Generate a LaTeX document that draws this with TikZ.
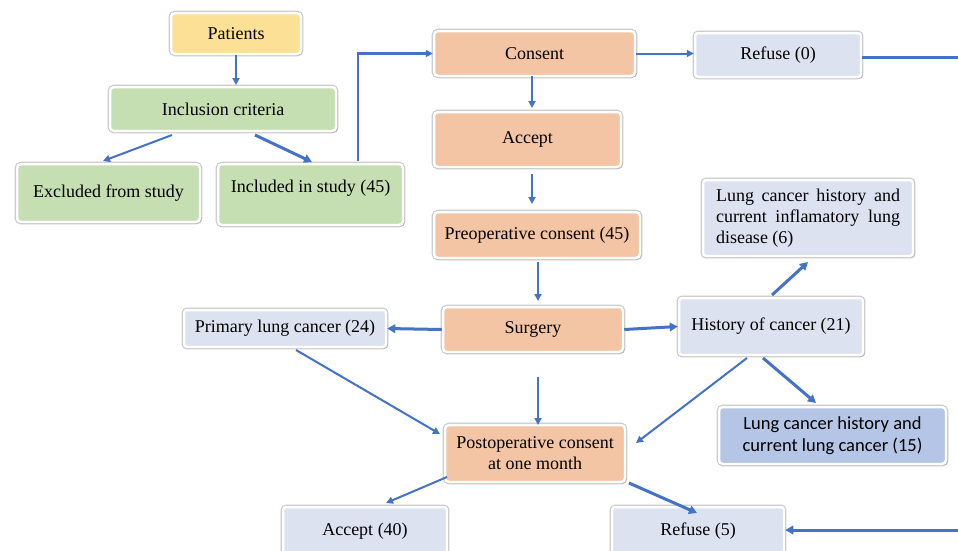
\documentclass[tikz,border=0pt]{standalone}
\usepackage{fontspec}
\setmainfont{Liberation Serif}
\newfontfamily\calib{Carlito}
\usetikzlibrary{shadows,arrows.meta}
\definecolor{arr}{HTML}{4472C4}
\definecolor{yel}{HTML}{FBE096}
\definecolor{grn}{HTML}{C5DFB2}
\definecolor{org}{HTML}{F4C5A5}
\definecolor{blu}{HTML}{DCE2F0}
\definecolor{dblu}{HTML}{B4C5E6}
\tikzset{
  box/.style={rounded corners=4pt, draw=white, line width=2.5pt, inner sep=2pt,
    align=center, font=\fontsize{18}{21}\selectfont,
    preaction={draw=black!22, line width=4.6pt},
    drop shadow={opacity=0.25, shadow xshift=1pt, shadow yshift=-1.5pt, shadow scale=1.01}},
  yelbox/.style={box, fill=yel},
  grnbox/.style={box, fill=grn},
  orgbox/.style={box, fill=org},
  blubox/.style={box, fill=blu, rounded corners=3pt},
  dblubox/.style={box, fill=dblu},
  con/.style={draw=arr, line width=2pt, -{Triangle[length=7pt,width=7pt]}},
  tcon/.style={draw=arr, line width=3pt, -{Triangle[length=8pt,width=8.5pt]}},
  line/.style={draw=arr, line width=3pt},
}
\begin{document}
\begin{tikzpicture}[x=1pt,y=-1pt]
\useasboundingbox[fill=white] (0,0) rectangle (958,550);
\node[yelbox, minimum width=130pt, minimum height=41pt] (pat) at (236,33.5) {Patients};
\node[grnbox, minimum width=226pt, minimum height=44pt] (inc) at (223,109) {Inclusion criteria};
\node[grnbox, minimum width=183pt, minimum height=58pt] (exc) at (108.5,193) {Excluded from study};
\node[grnbox, minimum width=185pt, minimum height=61pt] (ins) at (310.5,194.5) {Included in study (45)\\[-4pt]\mbox{}};
\node[orgbox, minimum width=201pt, minimum height=45pt] (con) at (534.5,53.5) {Consent};
\node[orgbox, minimum width=187pt, minimum height=55pt] (acc) at (527.5,139.5) {Accept};
\node[orgbox, minimum width=206pt, minimum height=46pt] (pre) at (537,235) {Preoperative consent (45)};
\node[blubox, minimum width=166pt, minimum height=44pt] (ref0) at (778,55) {Refuse (0)};
\node[blubox, minimum width=210pt, minimum height=76pt, text width=184pt, align=justify] (inf) at (808,218) {Lung cancer history and current inflamatory lung disease (6)};
\node[orgbox, minimum width=180pt, minimum height=45pt] (sur) at (533,329.5) {Surgery};
\node[blubox, minimum width=202pt, minimum height=37pt] (pri) at (285,328.5) {Primary lung cancer (24)};
\node[blubox, minimum width=184pt, minimum height=57pt] (his) at (771,326.5) {History of cancer (21)};
\node[dblubox, minimum width=227pt, minimum height=57pt, font=\calib\fontsize{18.5}{22}\selectfont] (lc) at (832.5,435.5) {Lung cancer history and\\current lung cancer (15)};
\node[orgbox, minimum width=180pt, minimum height=57pt] (pos) at (535,453.5) {Postoperative consent\\at one month};
\node[blubox, minimum width=164pt, minimum height=48pt] (acc40) at (365,531) {Accept (40)};
\node[blubox, minimum width=172pt, minimum height=48pt] (ref5) at (698,531) {Refuse (5)};
\coordinate (r0e) at (958,57);
\coordinate (r5e) at (958,530);
\draw[con] (pat.south) -- (236,85);
\draw[con] (172,135) -- (103,161);
\draw[tcon] (255,135) -- (312,162);
\draw[con, line width=2.8pt] (358,161) |- (con.west);
\draw[con] (532,76) -- (532,108);
\draw[con] (532,174) -- (532,204);
\draw[con] (538,262) -- (538,301);
\draw[con] (con.east) -- (con.east -| ref0.west);
\draw[line] (ref0.east |- r0e) -- (r0e);
\draw[tcon] (r5e) -- (ref5.east |- r5e);
\draw[tcon] (sur.west) -- (pri.east);
\draw[tcon] (sur.east) -- (his.west);
\draw[con] (538,377) -- (538,425);
\draw[con] (296,350) -- (440,434);
\draw[tcon] (772,295) -- (808,262);
\draw[con] (747,358) -- (636,443);
\draw[tcon] (763,358) -- (816,403);
\draw[con] (447,477) -- (386,503);
\draw[tcon] (629,483) -- (697,513);
\end{tikzpicture}
\end{document}
